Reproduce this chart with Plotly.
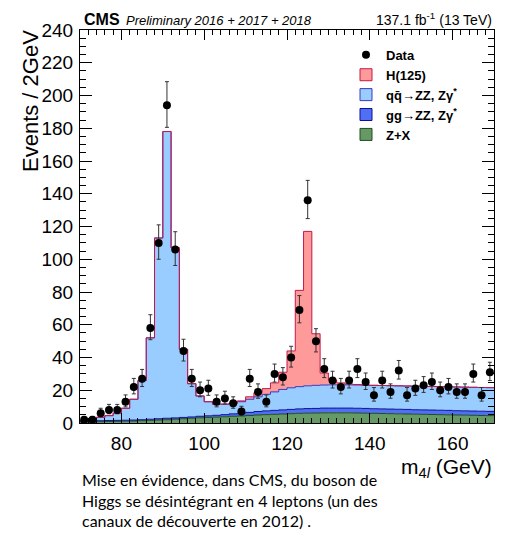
import numpy as np
import plotly.graph_objects as go

# ---------------- data ----------------
bin_edges = list(range(70, 172, 2))          # m4l bin edges, GeV
bin_centers = list(range(71, 170, 2))        # m4l bin centres, GeV

data_counts = [2, 2, 6, 8, 8, 13, 22, 27, 58, 110,
               194, 106, 44, 27, 20, 21, 13, 15, 12, 7,
               27, 19, 13, 30, 28, 40, 69, 136, 50, 33,
               26, 22, 26, 33, 25, 17, 26, 19, 32, 17,
               21, 23, 25, 20, 22, 19, 19, 30, 17, 31]

zx_bkg = [0.6, 0.7, 0.8, 0.9, 1.0, 1.1, 1.2, 1.4, 1.6, 1.8,
          2.0, 2.3, 2.6, 2.9, 3.2, 3.4, 3.6, 3.8, 4.1, 4.3,
          4.6, 4.9, 5.1, 5.3, 5.5, 5.7, 5.9, 6.0, 6.1, 6.2,
          6.2, 6.2, 6.2, 6.1, 6.0, 5.9, 5.8, 5.7, 5.6, 5.5,
          5.4, 5.3, 5.2, 5.1, 5.0, 4.9, 4.8, 4.7, 4.6, 4.5]

gg_zz = [0.6, 0.6, 0.6, 0.6, 0.6, 0.6, 0.6, 0.6, 0.7, 0.8,
         0.9, 0.8, 0.8, 0.8, 0.9, 1.0, 1.1, 1.3, 1.5, 1.7,
         1.9, 2.1, 2.3, 2.4, 2.5, 2.6, 2.7, 2.8, 2.8, 2.9,
         2.9, 2.9, 2.9, 2.9, 2.9, 2.8, 2.8, 2.8, 2.8, 2.8,
         2.7, 2.7, 2.7, 2.7, 2.7, 2.6, 2.6, 2.6, 2.6, 2.6]

qq_zz = [0.3, 0.4, 2.1, 3.0, 4.4, 7.3, 12.7, 24.0, 49.7, 110.4,
         175.1, 103.9, 41.6, 20.3, 12.4, 8.6, 6.8, 6.4, 6.4, 7.0,
         8.0, 9.0, 10.1, 11.3, 12.5, 13.2, 13.6, 13.9, 14.1, 14.1,
         14.2, 14.2, 14.2, 14.2, 14.2, 14.3, 14.3, 14.3, 14.3, 14.3,
         14.4, 14.4, 14.4, 14.4, 14.4, 14.5, 14.5, 14.5, 14.5, 14.5]

higgs = [0, 0, 0, 0, 0, 0, 0, 0, 0, 0,
         0, 0, 0, 0, 0, 0, 0, 0, 0, 0.5,
         1.5, 2.5, 3.5, 5.5, 10.5, 22.5, 58.8, 94.3, 31.5, 7.3,
         3.0, 1.2, 0.5, 0.3, 0, 0, 0, 0, 0, 0,
         0, 0, 0, 0, 0, 0, 0, 0, 0, 0]

y_ticks = list(range(0, 241, 20))
x_ticks = [80, 100, 120, 140, 160]

# ---------------- derived ----------------
n = np.array(data_counts, dtype=float)
err_up = 0.5 + np.sqrt(n + 0.25)
err_dn = -0.5 + np.sqrt(n + 0.25)

c1 = np.array(zx_bkg)
c2 = c1 + np.array(gg_zz)
c3 = c2 + np.array(qq_zz)
c4 = c3 + np.array(higgs)


def step(v):
    return np.append(v, v[-1])


COL_H, LINE_H = "#ff9a9a", "#c81848"
COL_QQ, LINE_QQ = "#99ccff", "#3a3ac0"
COL_GG, LINE_GG = "#4f70f5", "#101090"
COL_ZX, LINE_ZX = "#669966", "#1f4f1f"

fig = go.Figure()

stack = [
    (c1, COL_ZX, LINE_ZX, "tozeroy"),
    (c2, COL_GG, LINE_GG, "tonexty"),
    (c3, COL_QQ, LINE_QQ, "tonexty"),
    (c4, COL_H, LINE_H, "tonexty"),
]
for vals, fc, lc, fillmode in stack:
    fig.add_trace(go.Scatter(
        x=bin_edges, y=step(vals), mode="lines",
        line=dict(shape="hv", color=lc, width=1),
        fill=fillmode, fillcolor=fc, showlegend=False, hoverinfo="skip"))

# data points
fig.add_trace(go.Scatter(
    x=bin_centers, y=data_counts, mode="markers", name="<b>Data</b>",
    marker=dict(color="black", size=8),
    error_y=dict(type="data", symmetric=False, array=err_up, arrayminus=err_dn,
                 color="#333333", thickness=1, width=2),
    showlegend=True))

# legend swatches
for name, fc, lc in [("<b>H(125)</b>", COL_H, LINE_H),
                     ("<b>qq\u0304\u2192ZZ, Z\u03b3<sup>*</sup></b>", COL_QQ, LINE_QQ),
                     ("<b>gg\u2192ZZ, Z\u03b3<sup>*</sup></b>", COL_GG, LINE_GG),
                     ("<b>Z+X</b>", COL_ZX, LINE_ZX)]:
    fig.add_trace(go.Bar(x=[None], y=[None], name=name,
                         marker=dict(color=fc, line=dict(color=lc, width=1))))

axis_common = dict(showline=True, linecolor="black", linewidth=1, mirror="ticks",
                   ticks="inside", tickcolor="black", showgrid=False, zeroline=False,
                   tickfont=dict(family="Liberation Sans, Arial, sans-serif", size=19,
                                 color="black"))

fig.update_xaxes(range=[70, 170], tickvals=x_ticks, ticklen=10,
                 minor=dict(dtick=2, ticks="inside", ticklen=5, tickcolor="black"),
                 ticklabelstandoff=3, **axis_common)
fig.update_yaxes(range=[0, 240], tickvals=y_ticks, ticklen=12,
                 minor=dict(dtick=5, ticks="inside", ticklen=6, tickcolor="black"),
                 ticklabelstandoff=2, **axis_common)

# the page puts the figure 8 px in from the top-left corner
OFF = 8
W, H = 500, 546
ML, MR, MT, MB = 72, 14, 17, 131
pw, ph = W - ML - MR, H - MT - MB


def px(xpage):
    return (xpage - OFF - ML) / pw


def py(ypage):
    return (H - MB - (ypage - OFF)) / ph


font = "Liberation Sans, Arial, sans-serif"
ann = [
    dict(text="<b>CMS</b>", x=px(82), y=1, yanchor="bottom", xanchor="left",
         yshift=0, font=dict(family=font, size=16, color="black")),
    dict(text="<i>Preliminary 2016 + 2017 + 2018</i>", x=px(124), y=1, yanchor="bottom",
         xanchor="left", yshift=0, font=dict(family=font, size=13, color="black")),
    dict(text="137.1 fb<sup>-1</sup> (13 TeV)", x=1, y=1, yanchor="bottom", xanchor="right",
         yshift=0, font=dict(family=font, size=14, color="black")),
    dict(text="Events / 2GeV", textangle=-90, x=px(30), y=1, xanchor="center",
         yanchor="top", yshift=2, font=dict(family=font, size=22, color="black")),
    dict(text="m<sub>4<i>l</i></sub> (GeV)", x=1, y=py(469), xanchor="right",
         yanchor="middle", font=dict(family=font, size=21, color="black")),
    dict(text="Mise en évidence, dans CMS, du boson de", x=px(80), y=py(480),
         xanchor="left", yanchor="middle", font=dict(family="Lato", size=16, color="black")),
    dict(text="Higgs se désintégrant en 4 leptons (un des", x=px(80), y=py(501),
         xanchor="left", yanchor="middle", font=dict(family="Lato", size=16, color="black")),
    dict(text="canaux de découverte en 2012) .", x=px(80), y=py(522),
         xanchor="left", yanchor="middle", font=dict(family="Lato", size=16, color="black")),
]
for a in ann:
    a.update(xref="paper", yref="paper", showarrow=False)

fig.update_layout(
    width=W, height=H, margin=dict(l=ML, r=MR, t=MT, b=MB, pad=0),
    paper_bgcolor="white", plot_bgcolor="white",
    annotations=ann,
    legend=dict(x=px(346), y=py(35), xanchor="left", yanchor="top",
                bgcolor="rgba(0,0,0,0)", traceorder="normal",
                font=dict(family=font, size=13, color="black"),
                itemwidth=30, tracegroupgap=0),
    bargap=0,
)

fig.write_html("out.html")
